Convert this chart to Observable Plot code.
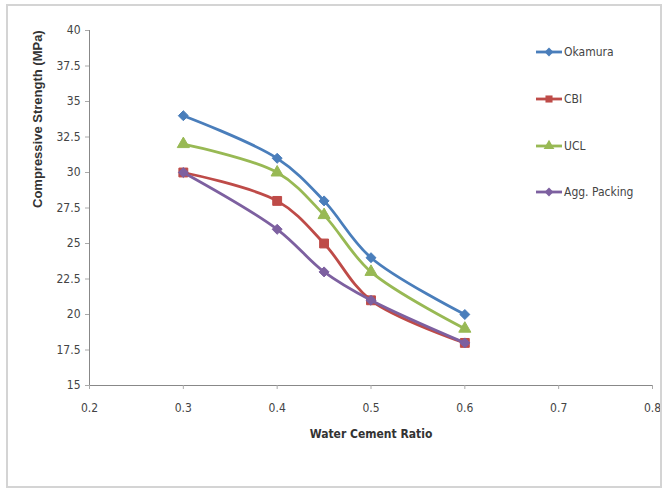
<!DOCTYPE html>
<html>
<head>
<meta charset="utf-8">
<script src="https://cdn.jsdelivr.net/npm/d3@7"></script>
<script src="https://cdn.jsdelivr.net/npm/@observablehq/plot@0.6"></script>
<style>
  html, body { margin: 0; padding: 0; background: #fff; }
  #wrap { position: relative; width: 671px; height: 495px; overflow: hidden; font-family: "DejaVu Sans Condensed", "Liberation Sans Narrow", "Liberation Sans", sans-serif; font-stretch: condensed; }
  #border { position: absolute; left: 6px; top: 4px; width: 656px; height: 484px; border: 2px solid #d4d4d4; box-sizing: border-box; pointer-events: none; }
  #legend { position: absolute; left: 535px; top: 42px; }
  .item { position: absolute; left: 0; height: 20px; display: flex; align-items: center; font-size: 12px; color: #444; white-space: nowrap; }
  .item svg { margin-right: 1px; }
</style>
</head>
<body>
<div id="wrap"><div id="border"></div><div id="legend"></div></div>
<script>
const waterCementRatio = [0.3, 0.4, 0.45, 0.5, 0.6];
const seriesNames = ["Okamura", "CBI", "UCL", "Agg. Packing"];
const okamura = [34, 31, 28, 24, 20];
const cbi = [30, 28, 25, 21, 18];
const ucl = [32, 30, 27, 23, 19];
const aggPacking = [30, 26, 23, 21, 18];
const seriesValues = [okamura, cbi, ucl, aggPacking];
const colors = ["#4a7ebb", "#be4b48", "#98b954", "#7d60a0"];
const symbols = ["diamond2", "square", "triangle", "diamond2"];
const xTicks = [0.2, 0.3, 0.4, 0.5, 0.6, 0.7, 0.8];
const yTicks = [15, 17.5, 20, 22.5, 25, 27.5, 30, 32.5, 35, 37.5, 40];

const data = [];
seriesNames.forEach((name, i) => {
  waterCementRatio.forEach((x, j) => data.push({series: name, x, y: seriesValues[i][j]}));
});

const order = ["Okamura", "UCL", "CBI", "Agg. Packing"];
const narrow = "'DejaVu Sans Condensed', 'Liberation Sans Narrow', 'Liberation Sans', sans-serif";

const marks = [
  Plot.ruleX([0.2], {y1: 15, y2: 40, stroke: "#888", strokeWidth: 1}),
  Plot.ruleY([15], {x1: 0.2, x2: 0.8, stroke: "#888", strokeWidth: 1}),
  Plot.axisX({ticks: xTicks, tickSize: 4, tickPadding: 14, stroke: "#aaa", tickFormat: d => String(d), fontSize: 12, color: "#444", label: null}),
  Plot.axisY({ticks: yTicks, tickSize: 4, tickPadding: 5, stroke: "#aaa", tickFormat: d => String(d), fontSize: 12, color: "#444", label: null})
];
order.forEach(name => {
  const i = seriesNames.indexOf(name);
  const d = data.filter(r => r.series === name);
  marks.push(Plot.line(d, {x: "x", y: "y", stroke: colors[i], strokeWidth: 2.8, curve: "catmull-rom"}));
  marks.push(Plot.dot(d, {x: "x", y: "y", fill: colors[i], stroke: colors[i], symbol: symbols[i], r: i === 1 ? 5 : 4.5, strokeWidth: 1}));
});

const chart = Plot.plot({
  width: 671,
  height: 495,
  marginLeft: 89,
  marginRight: 19,
  marginTop: 30,
  marginBottom: 110,
  x: {domain: [0.2, 0.8]},
  y: {domain: [15, 40]},
  style: {fontFamily: narrow, fontStretch: "condensed", background: "transparent"},
  marks: [
    ...marks,
    Plot.text(["Water Cement Ratio"], {frameAnchor: "bottom", dy: 52, fontSize: 12, fontWeight: "bold", fill: "#333"}),
    Plot.text(["Compressive Strength (MPa)"], {frameAnchor: "left", dx: -52, rotate: -90, fontSize: 13, fontWeight: "bold", fill: "#333", fontFamily: "'Liberation Sans', sans-serif"})
  ]
});
const wrap = document.getElementById("wrap");
wrap.insertBefore(chart, wrap.firstChild);

const legend = document.getElementById("legend");
const legendGap = [0, 47, 94, 140];
seriesNames.forEach((name, i) => {
  const item = document.createElement("div");
  item.className = "item";
  item.style.top = legendGap[i] + "px";
  const sw = d3.create("svg").attr("width", 28).attr("height", 14);
  sw.append("line").attr("x1", 1).attr("x2", 27).attr("y1", 7).attr("y2", 7).attr("stroke", colors[i]).attr("stroke-width", 2.8);
  const sym = {diamond2: d3.symbolDiamond2, square: d3.symbolSquare, triangle: d3.symbolTriangle}[symbols[i]];
  sw.append("path").attr("d", d3.symbol(sym, 50)()).attr("transform", "translate(14,7)").attr("fill", colors[i]);
  item.appendChild(sw.node());
  const t = document.createElement("span");
  t.textContent = name;
  item.appendChild(t);
  legend.appendChild(item);
});
</script>
</body>
</html>
